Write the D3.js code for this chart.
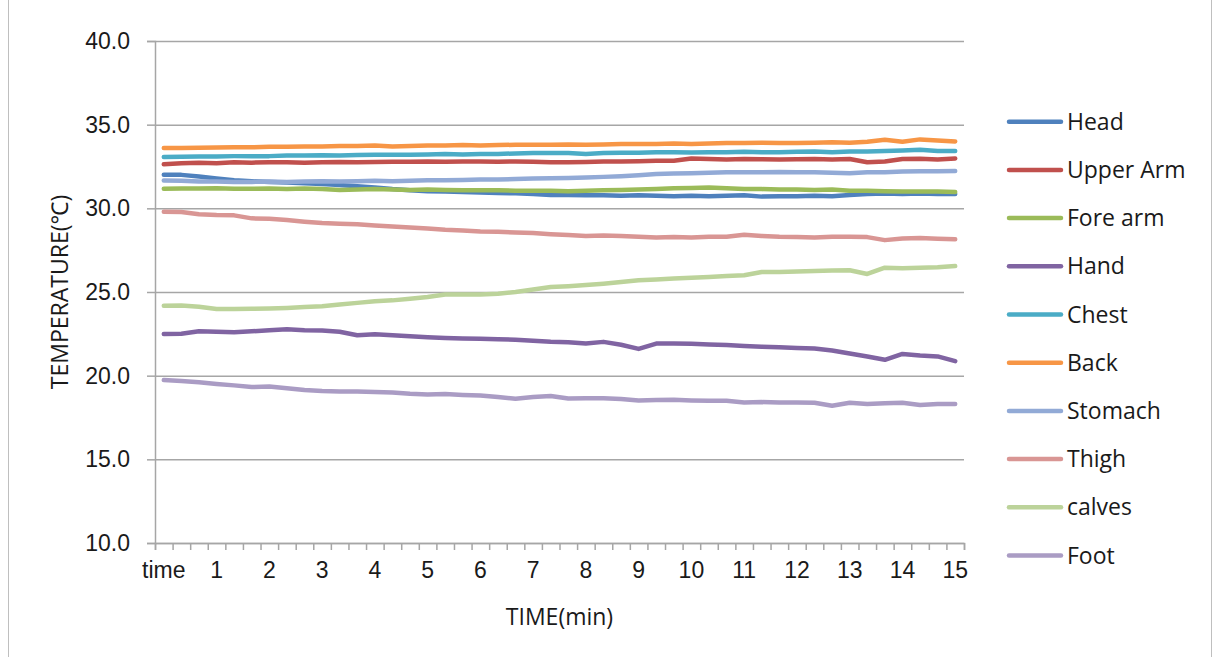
<!DOCTYPE html>
<html>
<head>
<meta charset="utf-8">
<script src="https://cdn.jsdelivr.net/npm/d3@7"></script>
<style>
  body { margin: 0; background: #ffffff; }
  svg { display: block; font-family: "Open Sans", "Noto Sans", sans-serif; }
</style>
</head>
<body>
<svg id="chart-svg"></svg>
<script>
// 46 readings, one every 20 s; every third one gets a label
const pointsPerMinute = 3;
const tickLabels = ["time", "1", "2", "3", "4", "5", "6", "7", "8", "9", "10", "11", "12", "13", "14", "15"];
const seriesNames = ["Head", "Upper Arm", "Fore arm", "Hand", "Chest", "Back", "Stomach", "Thigh", "calves", "Foot"];
const seriesColors = ["#4f81bd", "#c0504d", "#9bbb59", "#8064a2", "#4bacc6", "#f79646", "#92aad6", "#d99694", "#bcd39a", "#aa9cc4"];
const yTicks = [10, 15, 20, 25, 30, 35, 40];

const head = [32.0, 32.0, 31.9, 31.78, 31.68, 31.62, 31.58, 31.55, 31.5, 31.45, 31.4, 31.32, 31.25, 31.15, 31.08, 31.02, 31.0, 30.97, 30.95, 30.92, 30.9, 30.85, 30.8, 30.8, 30.78, 30.78, 30.75, 30.78, 30.75, 30.72, 30.75, 30.72, 30.75, 30.78, 30.7, 30.72, 30.72, 30.75, 30.72, 30.8, 30.85, 30.88, 30.85, 30.88, 30.85, 30.85];
const upperArm = [32.63, 32.7, 32.72, 32.7, 32.75, 32.73, 32.75, 32.75, 32.72, 32.75, 32.77, 32.75, 32.77, 32.78, 32.78, 32.8, 32.78, 32.8, 32.8, 32.78, 32.8, 32.78, 32.75, 32.75, 32.77, 32.8, 32.8, 32.82, 32.85, 32.85, 32.98, 32.95, 32.92, 32.95, 32.93, 32.92, 32.93, 32.95, 32.92, 32.95, 32.75, 32.8, 32.95, 32.97, 32.92, 32.98];
const foreArm = [31.17, 31.18, 31.18, 31.2, 31.17, 31.17, 31.18, 31.15, 31.18, 31.15, 31.1, 31.12, 31.15, 31.12, 31.1, 31.12, 31.1, 31.08, 31.08, 31.08, 31.05, 31.05, 31.05, 31.02, 31.05, 31.08, 31.1, 31.12, 31.15, 31.2, 31.22, 31.25, 31.2, 31.15, 31.15, 31.12, 31.12, 31.1, 31.12, 31.05, 31.05, 31.02, 31.0, 31.0, 31.0, 30.98];
const hand = [22.49, 22.5, 22.65, 22.62, 22.6, 22.65, 22.72, 22.78, 22.72, 22.7, 22.62, 22.42, 22.48, 22.42, 22.35, 22.3, 22.25, 22.22, 22.2, 22.18, 22.15, 22.08, 22.02, 22.0, 21.92, 22.02, 21.85, 21.6, 21.92, 21.92, 21.9, 21.86, 21.83, 21.78, 21.73, 21.7, 21.66, 21.62, 21.5, 21.32, 21.15, 20.95, 21.3, 21.2, 21.15, 20.87];
const chest = [33.07, 33.08, 33.1, 33.1, 33.12, 33.12, 33.12, 33.15, 33.15, 33.17, 33.15, 33.18, 33.2, 33.2, 33.2, 33.22, 33.25, 33.22, 33.25, 33.25, 33.28, 33.3, 33.3, 33.3, 33.25, 33.3, 33.32, 33.32, 33.35, 33.35, 33.33, 33.35, 33.35, 33.38, 33.35, 33.35, 33.38, 33.4, 33.35, 33.4, 33.4, 33.42, 33.45, 33.5, 33.42, 33.43];
const back = [33.6, 33.6, 33.62, 33.63, 33.65, 33.65, 33.68, 33.68, 33.7, 33.7, 33.72, 33.72, 33.75, 33.7, 33.72, 33.75, 33.75, 33.78, 33.75, 33.78, 33.8, 33.8, 33.8, 33.82, 33.8, 33.82, 33.85, 33.85, 33.85, 33.87, 33.85, 33.88, 33.9, 33.9, 33.92, 33.9, 33.9, 33.92, 33.95, 33.92, 33.98, 34.1, 33.98, 34.12, 34.05, 34.0];
const stomach = [31.67, 31.65, 31.6, 31.6, 31.58, 31.58, 31.6, 31.58, 31.6, 31.62, 31.6, 31.62, 31.65, 31.62, 31.65, 31.68, 31.68, 31.7, 31.72, 31.72, 31.75, 31.78, 31.8, 31.82, 31.85, 31.88, 31.92, 31.98, 32.05, 32.08, 32.1, 32.12, 32.15, 32.15, 32.15, 32.17, 32.15, 32.15, 32.12, 32.1, 32.15, 32.15, 32.2, 32.22, 32.22, 32.23];
const thigh = [29.8, 29.78, 29.65, 29.6, 29.58, 29.4, 29.38, 29.3, 29.2, 29.12, 29.08, 29.05, 28.98, 28.92, 28.85, 28.8, 28.72, 28.68, 28.62, 28.6, 28.55, 28.52, 28.45, 28.4, 28.35, 28.38, 28.35, 28.3, 28.25, 28.28, 28.25, 28.3, 28.3, 28.42, 28.35, 28.3, 28.28, 28.25, 28.3, 28.3, 28.28, 28.1, 28.2, 28.22, 28.18, 28.15];
const calves = [24.18, 24.2, 24.12, 23.98, 23.98, 24.0, 24.02, 24.05, 24.1, 24.15, 24.25, 24.35, 24.45, 24.5, 24.6, 24.7, 24.85, 24.85, 24.85, 24.9, 25.0, 25.15, 25.3, 25.35, 25.42, 25.5, 25.6, 25.7, 25.75, 25.8, 25.85, 25.9, 25.95, 26.0, 26.2, 26.2, 26.22, 26.25, 26.28, 26.3, 26.08, 26.45, 26.42, 26.45, 26.48, 26.55];
const foot = [19.74, 19.68, 19.6, 19.5, 19.42, 19.32, 19.35, 19.25, 19.15, 19.08, 19.05, 19.05, 19.02, 19.0, 18.92, 18.88, 18.9, 18.85, 18.82, 18.72, 18.62, 18.72, 18.78, 18.63, 18.65, 18.65, 18.6, 18.52, 18.55, 18.56, 18.52, 18.5, 18.5, 18.4, 18.42, 18.4, 18.4, 18.38, 18.2, 18.38, 18.3, 18.35, 18.38, 18.25, 18.3, 18.3];

const seriesValues = [head, upperArm, foreArm, hand, chest, back, stomach, thigh, calves, foot];

const width = 1213;
const height = 657;

let svg = d3.select("#chart-svg")
    .attr("width", width)
    .attr("height", height);

// outer chart frame
svg.append("rect")
    .attr("x", 8.5)
    .attr("y", -2)
    .attr("width", 1203)
    .attr("height", height + 4)
    .attr("fill", "none")
    .attr("stroke", "#bfbfbf")
    .attr("stroke-width", 1);

const plot = { left: 155, right: 964, top: 41, bottom: 543 };
const nPoints = head.length;

const xScale = d3.scaleBand()
    .domain(d3.range(nPoints))
    .range([plot.left, plot.right]);

// category boundaries, for the tick marks
const xEdge = d3.scaleLinear()
    .domain([0, nPoints])
    .range([plot.left, plot.right]);

const yScale = d3.scaleLinear()
    .domain([10, 40])
    .range([plot.bottom, plot.top]);

// gridlines
svg.append("g")
    .attr("class", "grid")
    .attr("transform", `translate(${plot.left},0)`)
    .call(d3.axisLeft(yScale).tickValues(yTicks).tickSize(-(plot.right - plot.left)).tickFormat(""))
    .call(g => g.select(".domain").remove())
    .call(g => g.selectAll("line").attr("stroke", "#a6a6a6").attr("stroke-width", 1.5));

// y axis
svg.append("g")
    .attr("class", "y-axis")
    .attr("transform", `translate(${plot.left},0)`)
    .call(d3.axisLeft(yScale).tickValues(yTicks).tickSize(8).tickPadding(17).tickFormat(d3.format(".1f")))
    .call(g => g.select(".domain").attr("stroke", "#a6a6a6").attr("stroke-width", 1.5))
    .call(g => g.selectAll("line").attr("stroke", "#a6a6a6").attr("stroke-width", 1.5))
    .call(g => g.selectAll("text").style("font-size", "23px").attr("fill", "#1a1a1a"));

// x axis: tick marks at category edges
svg.append("g")
    .attr("class", "x-axis")
    .attr("transform", `translate(0,${plot.bottom})`)
    .call(d3.axisBottom(xEdge).tickValues(d3.range(nPoints + 1)).tickSize(7).tickFormat(""))
    .call(g => g.select(".domain").attr("stroke", "#a6a6a6").attr("stroke-width", 1.5))
    .call(g => g.selectAll("line").attr("stroke", "#a6a6a6").attr("stroke-width", 1.5));

// x labels every third category
svg.append("g")
    .attr("class", "x-labels")
    .attr("transform", `translate(0,${plot.bottom})`)
    .call(d3.axisBottom(xScale)
        .tickValues(tickLabels.map((t, i) => i * pointsPerMinute))
        .tickSize(0)
        .tickPadding(19)
        .tickFormat(d => tickLabels[d / pointsPerMinute]))
    .call(g => g.select(".domain").remove())
    .call(g => g.selectAll("text").style("font-size", "23px").attr("fill", "#1a1a1a"));

// axis titles
svg.append("text")
    .attr("x", (plot.left + plot.right) / 2)
    .attr("y", 625)
    .attr("text-anchor", "middle")
    .style("font-size", "23px")
    .attr("fill", "#1a1a1a")
    .text("TIME(min)");

svg.append("text")
    .attr("transform", "rotate(-90)")
    .attr("x", -(plot.top + plot.bottom) / 2)
    .attr("y", 68)
    .attr("text-anchor", "middle")
    .style("font-size", "23px")
    .attr("fill", "#1a1a1a")
    .text("TEMPERATURE(℃)");

// lines
const line = d3.line()
    .x((d, i) => xScale(i) + xScale.bandwidth() / 2)
    .y(d => yScale(d));

svg.append("g")
    .selectAll("path")
    .data(seriesValues)
    .join("path")
    .attr("d", line)
    .attr("fill", "none")
    .attr("stroke", (d, i) => seriesColors[i])
    .attr("stroke-width", 4.5)
    .attr("stroke-linejoin", "round")
    .attr("stroke-linecap", "round");

// legend
const legend = svg.append("g").attr("class", "legend");
const legendRows = legend.selectAll("g")
    .data(seriesNames)
    .join("g")
    .attr("transform", (d, i) => `translate(1007,${121.7 + i * 48.2})`);

legendRows.append("line")
    .attr("x1", 2)
    .attr("x2", 54)
    .attr("stroke", (d, i) => seriesColors[i])
    .attr("stroke-width", 4.5)
    .attr("stroke-linecap", "round");

legendRows.append("text")
    .attr("x", 60)
    .attr("dy", "0.35em")
    .style("font-size", "23px")
    .attr("fill", "#1a1a1a")
    .text(d => d);
</script>
</body>
</html>
